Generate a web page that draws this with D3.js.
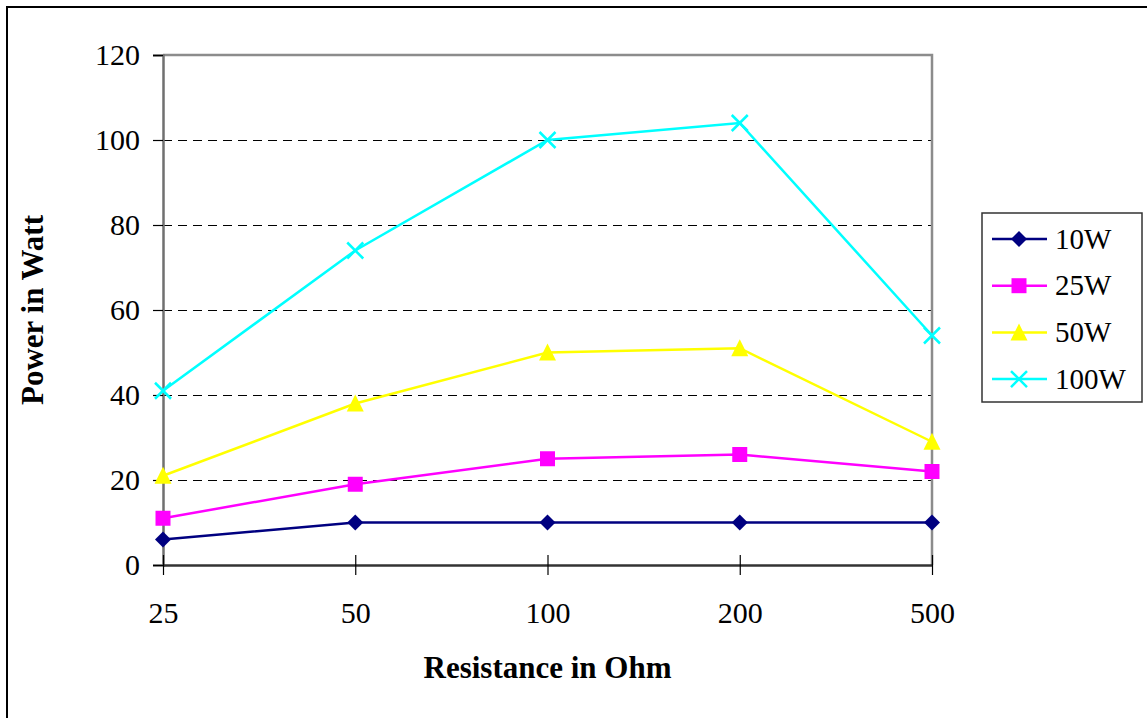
<!DOCTYPE html>
<html>
<head>
<meta charset="utf-8">
<script src="https://cdn.jsdelivr.net/npm/d3@7"></script>
<style>
  html, body { margin: 0; padding: 0; background: #fff; }
  svg { display: block; }
  text { font-family: "Liberation Serif", "Times New Roman", serif; fill: #000; }
</style>
</head>
<body>
<svg id="chart" width="1147" height="718"></svg>
<script>
// ---- data ----
const categories = ["25", "50", "100", "200", "500"];
const seriesNames = ["10W", "25W", "50W", "100W"];
const values10W  = [6, 10, 10, 10, 10];
const values25W  = [11, 19, 25, 26, 22];
const values50W  = [21, 38, 50, 51, 29];
const values100W = [41, 74, 100, 104, 54];
const yTicks = [0, 20, 40, 60, 80, 100, 120];
const xTitle = "Resistance in Ohm";
const yTitle = "Power in Watt";

const seriesColors = ["#000080", "#FF00FF", "#FFFF00", "#00FFFF"];
const seriesMarkers = ["diamond", "square", "triangle", "x"];
const seriesData = [values10W, values25W, values50W, values100W].map((v, i) => ({
  name: seriesNames[i], values: v, color: seriesColors[i], marker: seriesMarkers[i]
}));

// ---- layout ----
const svg = d3.select("#chart");
const plot = { left: 163, right: 932, top: 55, bottom: 565 };

// outer chart border (extends past the right/bottom of the window)
svg.append("rect")
  .attr("x", 7).attr("y", 7).attr("width", 1160).attr("height", 730)
  .attr("fill", "#fff").attr("stroke", "#000").attr("stroke-width", 2);

const x = d3.scalePoint().domain(categories).range([plot.left, plot.right]);
const y = d3.scaleLinear().domain([0, 120]).range([plot.bottom, plot.top]);

// gridlines
svg.append("g").selectAll("line")
  .data(yTicks.filter(t => t > 0 && t < 120))
  .join("line")
  .attr("x1", plot.left).attr("x2", plot.right)
  .attr("y1", d => y(d) + 0.5).attr("y2", d => y(d) + 0.5)
  .attr("stroke", "#000").attr("stroke-width", 1)
  .attr("stroke-dasharray", "9,6");

// plot border top/right (gray)
svg.append("path")
  .attr("d", `M${plot.left},${plot.top}H${plot.right}V${plot.bottom}`)
  .attr("fill", "none").attr("stroke", "#8c8c8c").attr("stroke-width", 2.5);

// y axis
const yAxis = svg.append("g")
  .attr("transform", `translate(${plot.left},0)`)
  .call(d3.axisLeft(y).tickValues(yTicks).tickSize(10).tickPadding(13));
yAxis.select(".domain").attr("stroke", "#707070").attr("stroke-width", 2.5);
yAxis.selectAll(".tick line").attr("stroke", "#000").attr("stroke-width", 1.2);
yAxis.selectAll(".tick text")
  .attr("font-family", "Liberation Serif").attr("font-size", 30).attr("fill", "#000");

// x axis
const xAxis = svg.append("g")
  .attr("transform", `translate(0,${plot.bottom})`)
  .call(d3.axisBottom(x).tickSize(10).tickSizeOuter(0));
xAxis.select(".domain").attr("stroke", "#333").attr("stroke-width", 2.5);
xAxis.selectAll(".tick line").attr("y1", -10).attr("y2", 10)
  .attr("stroke", "#000").attr("stroke-width", 1.2);
xAxis.selectAll(".tick text")
  .attr("y", 58).attr("dy", 0)
  .attr("font-family", "Liberation Serif").attr("font-size", 30).attr("fill", "#000");

// axis titles
svg.append("text")
  .attr("x", (plot.left + plot.right) / 2).attr("y", 678)
  .attr("text-anchor", "middle")
  .attr("font-size", 31).attr("font-weight", "bold")
  .text(xTitle);
svg.append("text")
  .attr("transform", `translate(43,${(plot.top + plot.bottom) / 2}) rotate(-90)`)
  .attr("text-anchor", "middle")
  .attr("font-size", 31).attr("font-weight", "bold")
  .text(yTitle);

// marker paths
function markerPath(type) {
  switch (type) {
    case "diamond": return "M0,-8L8,0L0,8L-8,0Z";
    case "square": return "M-7.5,-7.5H7.5V7.5H-7.5Z";
    case "triangle": return "M0,-9L8.5,8L-8.5,8Z";
    case "x": return "M-8,-8L8,8M-8,8L8,-8";
  }
}
function drawMarker(g, type, color) {
  if (type === "x") {
    g.append("path").attr("d", markerPath(type))
      .attr("fill", "none").attr("stroke", color).attr("stroke-width", 2.5);
  } else {
    g.append("path").attr("d", markerPath(type)).attr("fill", color).attr("stroke", "none");
  }
}

// lines + markers
const line = d3.line().x((d, i) => x(categories[i])).y(d => y(d));
seriesData.forEach(s => {
  svg.append("path")
    .attr("d", line(s.values))
    .attr("fill", "none").attr("stroke", s.color).attr("stroke-width", 2.5);
  s.values.forEach((v, i) => {
    const g = svg.append("g").attr("transform", `translate(${x(categories[i])},${y(v)})`);
    drawMarker(g, s.marker, s.color);
  });
});

// legend
const legend = svg.append("g");
legend.append("rect")
  .attr("x", 982).attr("y", 213).attr("width", 160).attr("height", 189)
  .attr("fill", "#fff").attr("stroke", "#333").attr("stroke-width", 1.5);
seriesData.forEach((s, i) => {
  const ly = 239 + i * 46.7;
  legend.append("line")
    .attr("x1", 992).attr("x2", 1047).attr("y1", ly).attr("y2", ly)
    .attr("stroke", s.color).attr("stroke-width", 2.5);
  const g = legend.append("g").attr("transform", `translate(1019,${ly})`);
  drawMarker(g, s.marker, s.color);
  legend.append("text")
    .attr("x", 1055).attr("y", ly + 9.5)
    .attr("font-size", 29)
    .text(s.name);
});
</script>
</body>
</html>
